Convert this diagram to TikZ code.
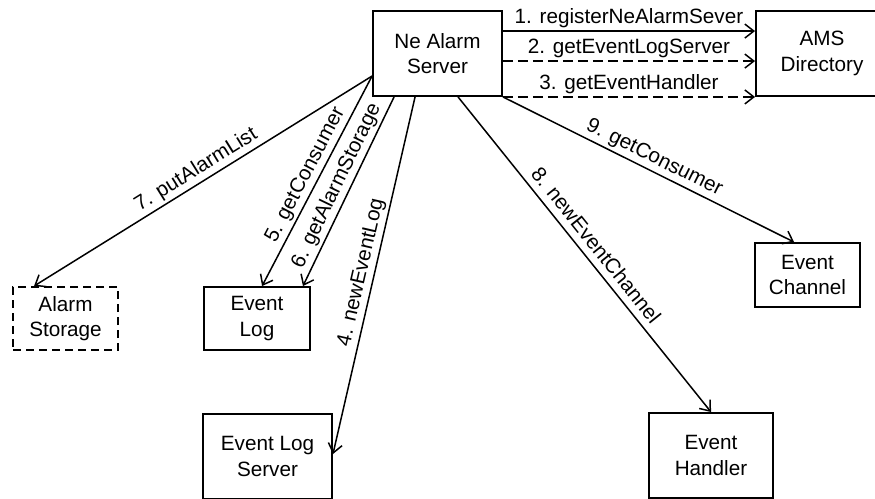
\documentclass[tikz,border=0pt]{standalone}
\usepackage{fontspec}
\setmainfont{Liberation Sans}
\usetikzlibrary{arrows.meta,calc}
\begin{document}
\begin{tikzpicture}[x=1pt,y=-1pt,
  box/.style={draw, line width=1.9pt, align=center, inner sep=0pt,
    font=\fontsize{20.7}{25.5}\selectfont},
  msg/.style={line width=1.5pt, -{Straight Barb[length=9pt,width=14pt]}},
  dmsg/.style={msg, dash pattern=on 10pt off 5pt},
  lbl/.style={font=\fontsize{20.7}{25}\selectfont, sloped, above, midway,
    inner sep=2pt, text depth=5pt, text height=15pt}
]
\clip (0,0) rectangle (875,498);

% objects
\node[box, minimum width=129pt, minimum height=85pt] (nas) at (437.5,53.5) {Ne Alarm\\Server};
\node[box, minimum width=132pt, minimum height=85pt] (ams) at (822,53.5) {AMS\\Directory};
\node[box, minimum width=105pt, minimum height=64pt] (evch) at (807.5,275) {Event\\Channel};
\node[box, minimum width=106pt, minimum height=63pt] (evlog) at (257,318.5) {Event\\Log};
\node[box, dash pattern=on 8pt off 5pt, minimum width=105pt, minimum height=63pt] (alst) at (65.5,318.5) {Alarm\\Storage};
\node[box, minimum width=129pt, minimum height=85pt] (evls) at (267.5,456.5) {Event Log\\Server};
\node[box, minimum width=124pt, minimum height=85pt] (evh) at (711,455.5) {Event\\Handler};

% messages
\draw[msg] ($(nas.north east)+(0,21)$) -- node[lbl]{1. registerNeAlarmSever} ($(ams.north west)+(0,21)$);
\draw[dmsg] ($(nas.north east)+(0,51)$) -- node[lbl]{2. getEventLogServer} ($(ams.north west)+(0,51)$);
\draw[dmsg] (nas.south east) -- node[lbl]{3. getEventHandler} (ams.south west);
\draw[msg] ($(nas.south west)+(43,0)$) -- node[lbl]{4. newEventLog} ($(evls.north east)+(0,41)$);
\draw[msg] ($(nas.north west)+(0,66)$) -- node[lbl]{5. getConsumer} ($(evlog.north west)+(59,0)$);
\draw[msg] ($(nas.south west)+(22,0)$) -- node[lbl]{6. getAlarmStorage} ($(evlog.north east)+(-8,0)$);
\draw[msg] ($(nas.north west)+(0,66)$) -- node[lbl]{7. putAlarmList} ($(alst.north west)+(22,0)$);
\draw[msg] ($(nas.south west)+(86,0)$) -- node[lbl]{8. newEventChannel} ($(evh.north west)+(63,0)$);
\draw[msg] (nas.south east) -- node[lbl]{9. getConsumer} ($(evch.north west)+(40,0)$);
\end{tikzpicture}
\end{document}
